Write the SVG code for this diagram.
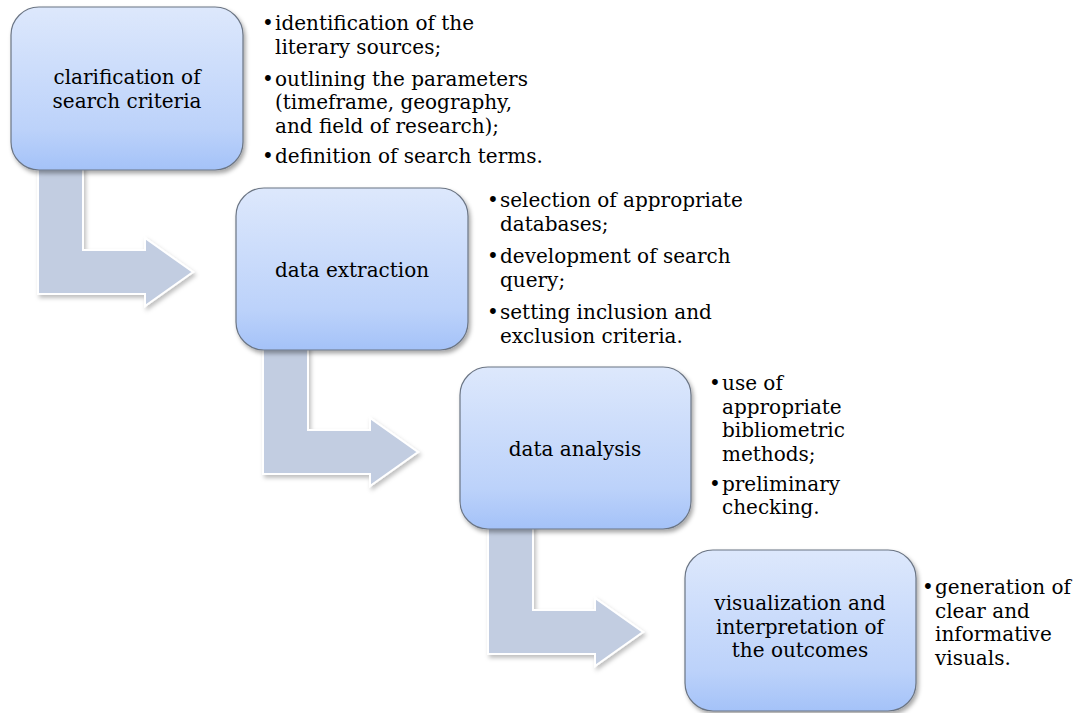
<svg xmlns="http://www.w3.org/2000/svg" width="1078" height="713" viewBox="0 0 1078 713">
<defs>
<linearGradient id="boxGrad" x1="0" y1="0" x2="0" y2="1">
<stop offset="0" stop-color="#dde8fc"/>
<stop offset="0.75" stop-color="#bcd2fa"/>
<stop offset="1" stop-color="#a4c2f8"/>
</linearGradient>
<filter id="shadow" x="-10%" y="-10%" width="125%" height="125%">
<feDropShadow dx="2" dy="3" stdDeviation="2" flood-color="#000" flood-opacity="0.35"/>
</filter>
<filter id="ashadow" x="-10%" y="-10%" width="125%" height="125%">
<feDropShadow dx="2" dy="3" stdDeviation="2" flood-color="#000" flood-opacity="0.25"/>
</filter>
</defs>
<style>
.box{fill:url(#boxGrad);stroke:#6b7584;stroke-width:1.2;filter:url(#shadow)}
.arrow{fill:#c2cde1;stroke:#ffffff;stroke-width:2;filter:url(#ashadow)}
.lbl{font-family:"DejaVu Serif","Liberation Serif",serif;font-size:20px;fill:#000;text-anchor:middle}
.bul{font-family:"DejaVu Serif","Liberation Serif",serif;font-size:20px;fill:#000}
</style>
<rect width="1078" height="713" fill="#ffffff"/>
<g id="connectors">
<path class="arrow" d="M38,150 L83,150 L83,250 L145,250 L145,238 L193,272 L145,306 L145,294 L38,294 Z"/>
<path class="arrow" d="M263,330 L308,330 L308,430 L370,430 L370,418 L418,452 L370,486 L370,474 L263,474 Z"/>
<path class="arrow" d="M488,510 L533,510 L533,610 L595,610 L595,598 L643,632 L595,666 L595,654 L488,654 Z"/>
</g>
<g id="node1">
<rect class="box" x="11" y="7" width="232" height="163" rx="28"/>
<text class="lbl" x="127" y="84">clarification of</text>
<text class="lbl" x="127" y="107.5">search criteria</text>
</g>
<g id="notes1" class="bul">
<text x="262" y="30">•</text><text x="275" y="30">identification of the</text>
<text x="275" y="53.5">literary sources;</text>
<text x="262" y="85.5">•</text><text x="275" y="85.5">outlining the parameters</text>
<text x="275" y="109">(timeframe, geography,</text>
<text x="275" y="132.5">and field of research);</text>
<text x="262" y="162.5">•</text><text x="275" y="162.5">definition of search terms.</text>
</g>
<g id="node2">
<rect class="box" x="236" y="188" width="232" height="162" rx="28"/>
<text class="lbl" x="352" y="277">data extraction</text>
</g>
<g id="notes2" class="bul">
<text x="487" y="207">•</text><text x="500" y="207">selection of appropriate</text>
<text x="500" y="230.5">databases;</text>
<text x="487" y="263">•</text><text x="500" y="263">development of search</text>
<text x="500" y="286.5">query;</text>
<text x="487" y="319">•</text><text x="500" y="319">setting inclusion and</text>
<text x="500" y="342.5">exclusion criteria.</text>
</g>
<g id="node3">
<rect class="box" x="460" y="367" width="231" height="162" rx="28"/>
<text class="lbl" x="575" y="456">data analysis</text>
</g>
<g id="notes3" class="bul">
<text x="709" y="390">•</text><text x="722" y="390">use of</text>
<text x="722" y="413.5">appropriate</text>
<text x="722" y="437">bibliometric</text>
<text x="722" y="460.5">methods;</text>
<text x="709" y="490.5">•</text><text x="722" y="490.5">preliminary</text>
<text x="722" y="514">checking.</text>
</g>
<g id="node4">
<rect class="box" x="685" y="550" width="231" height="161" rx="28"/>
<text class="lbl" x="800" y="610">visualization and</text>
<text class="lbl" x="800" y="633.5">interpretation of</text>
<text class="lbl" x="800" y="657">the outcomes</text>
</g>
<g id="notes4" class="bul">
<text x="922" y="594">•</text><text x="935" y="594">generation of</text>
<text x="935" y="617.5">clear and</text>
<text x="935" y="641">informative</text>
<text x="935" y="664.5">visuals.</text>
</g>
</svg>
